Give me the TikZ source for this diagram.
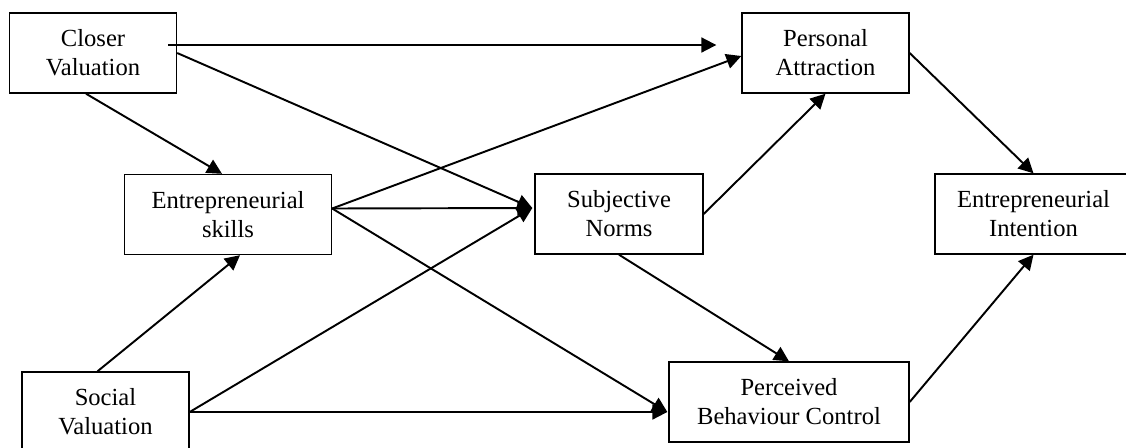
\documentclass[tikz,border=0pt]{standalone}
\usepackage{fontspec}
\setmainfont{Liberation Serif}
\usetikzlibrary{arrows.meta,calc}

\begin{document}
\begin{tikzpicture}[x=0.02cm,y=-0.02cm,line width=1.1pt,every node/.style={inner sep=2pt},
           >={Triangle[length=8.5pt,width=8.5pt]},
           box/.style={draw,line width=0.8pt,align=center,minimum width=#1,
             minimum height=1.6cm,font=\fontsize{14}{16.5}\selectfont}]
           \useasboundingbox(0,0)rectangle(1126,447);
           \clip(0,0)rectangle(1126,447);
           \node[box=3.34cm](closer)at(93,53){Closer\\Valuation};
           \node[box=4.14cm](skills)at(228,214.5){Entrepreneurial\\skills};
           \node[box=3.34cm](social)at(105.5,412){Social\\Valuation};
           \node[box=3.34cm](attract)at(825.5,53){Personal\\Attraction};
           \node[box=3.36cm](norms)at(619,214){Subjective\\Norms};
           \node[box=4.8cm](control)at(789,402){Perceived\\Behaviour Control};
           \node[box=3.94cm](intent)at(1033.5,214){Entrepreneurial\\Intention};
           \coordinate(cv)at($(closer.east)+(-9,-8)$);
           \coordinate(gap)at($(attract.west)+(-25,-8)$);
           \coordinate(aw)at($(attract.west)+(0,3)$);
           \coordinate(sk)at($(skills.east)+(0,-6)$);
           \coordinate(nw)at($(norms.west)+(-2,-6)$);
           \coordinate(cw)at($(control.west)+(-1,10)$);
           \draw[->](cv)--(gap);
           \draw[->](closer.east)--(nw);
           \draw[->]($(closer.south)+(-7,0)$)--($(skills.north)+(-6,0)$);
           \draw[->](sk)--(aw);
           \draw[->](sk)--(nw);
           \draw[->](sk)--(cw);
           \draw[->]($(social.north)+(-8,0)$)--($(skills.south)+(12,0)$);
           \draw[->](social.east)--(nw);
           \draw[->](social.east)--(cw);
           \draw[->](norms.east)--(attract.south);
           \draw[->](norms.south)--(control.north);
           \draw[->](attract.east)--(intent.north);
           \draw[->](control.east)--(intent.south);
         \end{tikzpicture}
\end{document}
